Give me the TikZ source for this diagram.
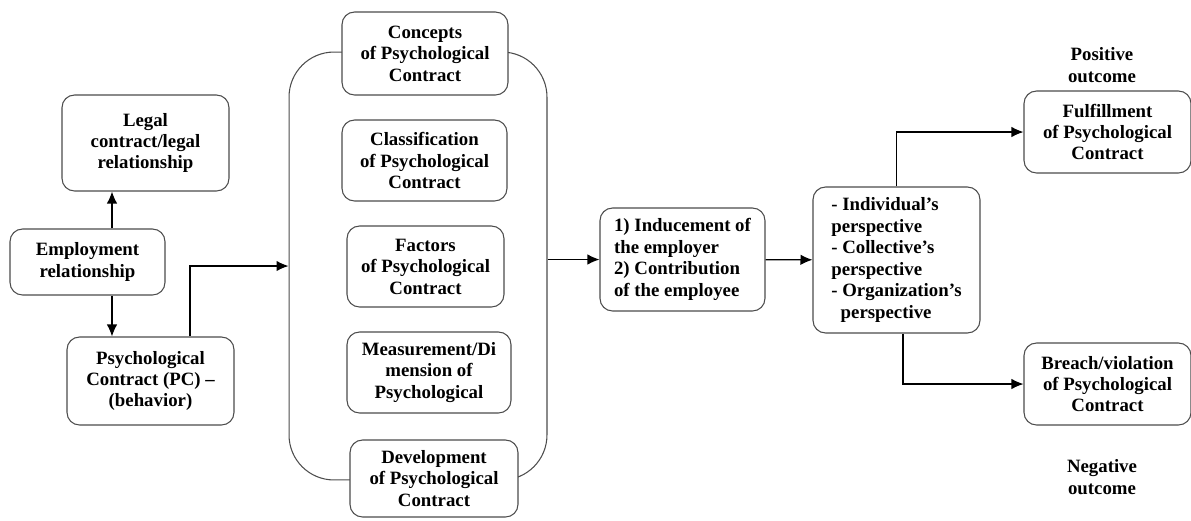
\documentclass[tikz,border=0pt]{standalone}
\usepackage{fontspec}
\setmainfont{Liberation Serif}[Ligatures=TeX]
\usepackage{xcolor}
\usetikzlibrary{shapes, arrows, arrows.meta, positioning}

\begin{document}
\begin{tikzpicture}[x=0.02cm, y=-0.02cm, thick]
\tikzstyle{block} = [rectangle, draw=black!70, fill=white, rounded corners=0.25cm, line width=0.6pt, align=center, font=\fontsize{10.7}{12.2}\selectfont\bfseries, inner sep=2pt]
\tikzstyle{frame} = [rectangle, draw=black!70, rounded corners=0.9cm, line width=0.6pt, minimum width=5.16cm, minimum height=8.56cm]
\tikzstyle{tag} = [align=center, font=\fontsize{10.7}{12.2}\selectfont\bfseries]
\tikzstyle{arrow} = [-{Latex[length=2.4mm,width=2.1mm]}, line width=0.7pt]

\useasboundingbox (0,0) rectangle (1191,521);

% left column
\node[block, minimum width=3.34cm, minimum height=1.92cm] (legal) at (145.5,143) {Legal\\contract/legal\\relationship};
\node[block, minimum width=3.1cm, minimum height=1.32cm] (employ) at (87.5,262) {Employment\\relationship};
\node[block, minimum width=3.34cm, minimum height=1.76cm] (pc) at (150.5,381) {Psychological\\Contract (PC) --\\(behavior)};

% middle group
\node[frame] (group) at (418,266) {};
\node[block, minimum width=3.32cm, minimum height=1.66cm] (concepts) at (425,53.5) {Concepts\\of Psychological\\Contract};
\node[block, minimum width=3.3cm, minimum height=1.62cm] (classif) at (424.5,160.5) {Classification\\of Psychological\\Contract};
\node[block, minimum width=3.14cm, minimum height=1.62cm] (factors) at (425.5,266.5) {Factors\\of Psychological\\Contract};
\node[block, minimum width=3.28cm, minimum height=1.62cm] (measure) at (429,372.5) {Measurement/Di\\mension of\\Psychological};
\node[block, minimum width=3.36cm, minimum height=1.54cm] (develop) at (434,478.5) {Development\\of Psychological\\Contract};

% right part
\node[block, align=left, minimum width=3.3cm, minimum height=2.06cm] (induce) at (682.5,259.5) {1) Inducement of\\the employer\\2) Contribution\\of the employee};
\node[block, align=left, minimum width=3.34cm, minimum height=2.92cm] (persp) at (896.5,260) {- Individual's\\perspective\\- Collective's\\perspective\\- Organization's\\\ \ perspective};
\node[block, minimum width=3.34cm, minimum height=1.64cm] (fulfil) at (1107.5,132) {Fulfillment\\of Psychological\\Contract};
\node[block, minimum width=3.34cm, minimum height=1.64cm] (breach) at (1107.5,384) {Breach/violation\\of Psychological\\Contract};
\node[tag] (pos) at (1102,65) {Positive\\outcome};
\node[tag] (neg) at (1102,477) {Negative\\outcome};

\draw[arrow] ([xshift=0.49cm]employ.north) -- ([xshift=0.49cm]employ.north |- legal.south);
\draw[arrow] ([xshift=0.49cm]employ.south) -- ([xshift=0.49cm]employ.south |- pc.north);
\draw[arrow] ([xshift=0.79cm]pc.north) |- (group.west);
\draw[arrow] (group.east |- induce.west) -- (induce.west);
\draw[arrow] (induce) -- (persp);
\draw[arrow] (persp.north) |- (fulfil.west);
\draw[arrow] ([xshift=0.13cm]persp.south) |- (breach.west);
\end{tikzpicture}
\end{document}
